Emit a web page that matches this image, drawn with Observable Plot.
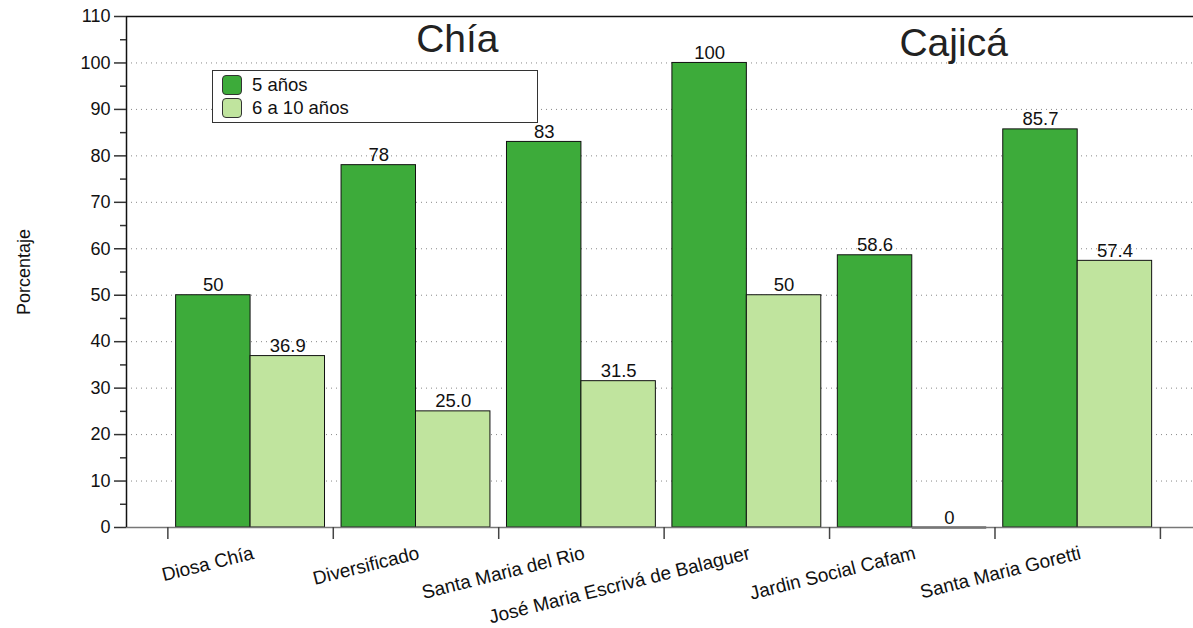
<!DOCTYPE html>
<html>
<head>
<meta charset="utf-8">
<script src="https://cdn.jsdelivr.net/npm/d3@7"></script>
<script src="https://cdn.jsdelivr.net/npm/@observablehq/plot@0.6"></script>
<style>
  html, body { margin: 0; padding: 0; background: #fff; }
  #chart { position: relative; width: 1193px; height: 628px; font-family: "Liberation Sans", Arial, Helvetica, sans-serif; }
  #legend {
    position: absolute; left: 212px; top: 70px; width: 324px; height: 51px;
    border: 1px solid #333; background: #fff; box-sizing: content-box;
    font-size: 18.5px; color: #111;
  }
  .item { position: absolute; left: 9px; height: 20px; display: flex; align-items: center; }
  .sw { width: 18px; height: 18px; border: 1px solid #333; border-radius: 4px; margin-right: 10px; }
</style>
</head>
<body>
<div id="chart"></div>
<script>
// Schools, grouped by municipality
const schools = [
  "Diosa Chía",
  "Diversificado",
  "Santa Maria del Rio",
  "José Maria Escrivá de Balaguer",
  "Jardin Social Cafam",
  "Santa Maria Goretti"
];
const regions = ["Chía", "Cajicá"];
const regionCenter = [1.75, 4.75];   // in school-index units
const regionBaseline = [102.3, 101.6];

// Percentages as printed above each bar
const age5 = ["50", "78", "83", "100", "58.6", "85.7"];
const age6to10 = ["36.9", "25.0", "31.5", "50", "0", "57.4"];

const seriesNames = ["5 años", "6 a 10 años"];
const seriesColors = ["#3dab3a", "#c0e49e"];

const yTicks = d3.range(0, 111, 10);
const yMinor = d3.range(5, 110, 10);

// One row per bar; each school occupies one unit on x, split in two bars
const bars = schools.flatMap((school, i) =>
  [age5, age6to10].map((labels, k) => ({
    school, series: seriesNames[k], label: labels[i], value: +labels[i],
    x1: i + 0.05 + k * 0.45, x2: i + 0.05 + (k + 1) * 0.45
  }))
);

const font = "Liberation Sans, Arial, Helvetica, sans-serif";

const plot = Plot.plot({
  width: 1193,
  height: 628,
  marginLeft: 126,
  marginRight: 0,
  marginTop: 16,
  marginBottom: 101,
  style: { fontFamily: font, fontSize: "18px", color: "#111", background: "#fff", overflow: "visible" },
  x: { type: "linear", domain: [-0.25, 6.2], axis: null },
  y: { domain: [0, 110], axis: null },
  color: { domain: seriesNames, range: seriesColors },
  marks: [
    Plot.gridY(d3.range(10, 101, 10), { stroke: "#888", strokeOpacity: 1, strokeDasharray: "1,4" }),
    Plot.rect(bars, { x1: "x1", x2: "x2", y1: 0, y2: "value", fill: "series", stroke: "#111", strokeWidth: 1 }),
    // a zero-height bar still shows as an outline on the baseline
    Plot.ruleY(bars.filter(d => d.value === 0), { x1: "x1", x2: "x2", y: "value", stroke: "#222", strokeWidth: 2 }),
    Plot.text(bars, {
      x: d => (d.x1 + d.x2) / 2, y: "value", text: "label",
      lineAnchor: "bottom", dy: -4, fontSize: 18.5, fill: "#111"
    }),
    // frame: top and left in black, baseline in grey
    Plot.ruleY([110], { stroke: "#111", strokeWidth: 1.5 }),
    Plot.ruleY([0], { stroke: "#777", strokeWidth: 1.5 }),
    Plot.ruleX([-0.25], { stroke: "#111", strokeWidth: 1.5 }),
    Plot.axisY(yTicks, { label: null, tickSize: 12, tickPadding: 4, fontSize: 18, stroke: "#333", strokeWidth: 1.5 }),
    Plot.axisY(yMinor, { label: null, tickSize: 6, tickFormat: () => "", stroke: "#333", strokeWidth: 1.5 }),
    Plot.axisX(d3.range(0, 7), { label: null, tickSize: 12, tickFormat: () => "", stroke: "#444", strokeWidth: 1.5 }),
    Plot.text(schools, {
      x: (d, i) => i + 0.5, y: 0, text: d => d,
      textAnchor: "end", lineAnchor: "top", rotate: -14, dy: 18, dx: 1, fontSize: 19, fill: "#111"
    }),
    Plot.text(regions, {
      x: (d, i) => regionCenter[i], y: (d, i) => regionBaseline[i], text: d => d,
      lineAnchor: "bottom", fontSize: 39, fill: "#222"
    }),
    Plot.text(["Porcentaje"], {
      frameAnchor: "left", dx: -102, rotate: -90, textAnchor: "middle", lineAnchor: "middle",
      text: d => d, fontSize: 18, fill: "#111"
    })
  ]
});

const chart = document.getElementById("chart");
chart.appendChild(plot);

// Legend box drawn over the upper left of the plot area
const legend = document.createElement("div");
legend.id = "legend";
seriesNames.forEach((name, k) => {
  const item = document.createElement("div");
  item.className = "item";
  item.style.top = (4 + k * 23) + "px";
  const sw = document.createElement("span");
  sw.className = "sw";
  sw.style.background = seriesColors[k];
  item.appendChild(sw);
  item.appendChild(document.createTextNode(name));
  legend.appendChild(item);
});
chart.appendChild(legend);
</script>
</body>
</html>
